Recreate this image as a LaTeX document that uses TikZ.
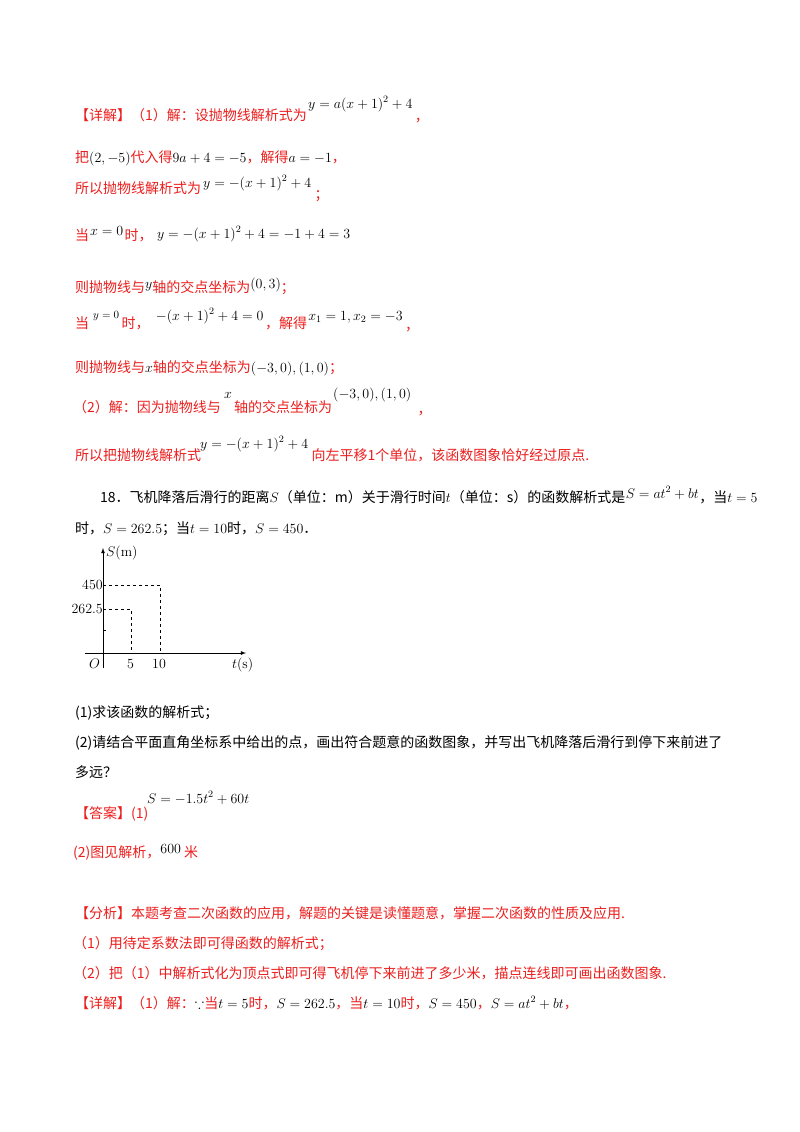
\RequirePackage{fix-cm}
\documentclass[tikz,border=0pt]{standalone}
\usepackage{amssymb}
\usepackage{fontspec}
\newfontfamily\cjk{Noto Sans CJK SC}
\definecolor{rd}{RGB}{235,30,30}
\newcommand\mth[1]{\textcolor{black}{$#1$}}
\tikzset{tx/.style={anchor=base west,inner sep=0,font=\cjk\fontsize{14}{16}\selectfont},
 rt/.style={tx,text=rd}, bt/.style={tx,text=black},
 mt/.style={anchor=base west,inner sep=0,font=\fontsize{14}{16}\selectfont},
 ax/.style={line width=0.8pt,-latex}, dl/.style={dashed,line width=0.5pt}}
\begin{document}
\begin{tikzpicture}[x=1pt,y=-1pt]
\useasboundingbox (0,0) rectangle (800,1132);
\node[rt] (a1) at (75,120) {【详解】（1）解：设抛物线解析式为};
\node[mt] (a2) at (308,108) {$y=a(x+1)^2+4$};
\node[rt] (a3) at (a2.base east) [xshift=2pt,yshift=-13pt] {，};
\node[rt] (b1) at (75,162) {把\mth{(2,-5)}代入得\mth{9a+4=-5}，解得\mth{a=-1}，};
\node[rt] (c1) at (75,193) {所以抛物线解析式为};
\node[mt] (c2) at (203,187) {$y=-(x+1)^2+4$};
\node[rt] (c3) at (c2.base east) [xshift=3pt,yshift=-12pt] {；};
\node[rt] (d1) at (75,240) {当};
\node[mt] (d2) at (90,235) {$x=0$};
\node[rt] (d3) at (d2.base east) [xshift=1pt,yshift=-5pt] {时，};
\node[mt] (d4) at (d3.base east) [xshift=4pt,yshift=2pt] {$y=-(x+1)^2+4=-1+4=3$};
\node[rt] (e1) at (75,292) {则抛物线与\raisebox{4pt}{\mth{y}}轴的交点坐标为\raisebox{4pt}{\mth{(0,3)}}；};
\node[rt] (f1) at (75,328) {当};
\node[mt,font=\fontsize{11}{13}\selectfont] (f2) at (93,318) {$y=0$};
\node[rt] (f3) at (f2.base east) [xshift=2pt,yshift=-10pt] {时，};
\node[mt] (f4) at (f3.base east) [xshift=6pt,yshift=8pt] {$-(x+1)^2+4=0$};
\node[rt] (f5) at (f4.base east) [xshift=1pt,yshift=-8pt] {，解得};
\node[mt] (f6) at (f5.base east) [xshift=1pt,yshift=8pt] {$x_1=1,x_2=-3$};
\node[rt] (f7) at (f6.base east) [xshift=2pt,yshift=-10pt] {，};
\node[rt] (g1) at (75,372) {则抛物线与\mth{x}轴的交点坐标为\mth{(-3,0),(1,0)}；};
\node[rt] (h1) at (73,412) {（2）解：因为抛物线与};
\node[mt] (h2) at (224,398) {$x$};
\node[rt] (h3) at (234,412) {轴的交点坐标为};
\node[mt] (h4) at (333,398) {$(-3,0),(1,0)$};
\node[rt] (h5) at (h4.base east) [xshift=6pt,yshift=-16pt] {，};
\node[rt] (i1) at (75,460) {所以把抛物线解析式};
\node[mt] (i2) at (200,448) {$y=-(x+1)^2+4$};
\node[rt] (i3) at (i2.base east) [xshift=3pt,yshift=-12pt] {向左平移1个单位，该函数图象恰好经过原点.};
\node[bt] (j1) at (100,502) {18．飞机降落后滑行的距离$S$（单位：m）关于滑行时间$t$（单位：s）的函数解析式是};
\node[mt] (j2) at (j1.base east) [yshift=4pt] {$S=at^2+bt$};
\node[bt] (j3) at (j2.base east) [yshift=-4pt] {，当$t=5$};
\node[bt] (k1) at (75,533) {时，$S=262.5$；当$t=10$时，$S=450$．};
% graph
\coordinate (o) at (103,653);
\coordinate (yt) at (103,548);
\coordinate (yb) at (103,668);
\coordinate (xl) at (85,653);
\coordinate (xr) at (246,653);
\draw[ax] (yb) -- (yt);
\draw[ax] (xl) -- (xr);
\draw (103,630) -- (106,630);
\draw[dl] (103,585) -- (160,585) -- (160,653);
\draw[dl] (103,609) -- (131,609) -- (131,653);
\node[mt,anchor=west] (sl) at (106,553) {$S(\mathrm{m})$};
\node[mt,anchor=east] (l450) at (103,585) {$450$};
\node[mt,anchor=east] (l262) at (103,609) {$262.5$};
\node[mt] (lo) at (89,668) {$O$};
\node[mt] (l5) at (127,668) {$5$};
\node[mt] (l10) at (152,668) {$10$};
\node[mt] (lt) at (232,668) {$t(\mathrm{s})$};
\node[bt] (m1) at (75,717) {(1)求该函数的解析式；};
\node[bt] (m2) at (75,747) {(2)请结合平面直角坐标系中给出的点，画出符合题意的函数图象，并写出飞机降落后滑行到停下来前进了};
\node[bt] (m3) at (75,777) {多远？};
\node[rt] (n1) at (75,818) {【答案】(1)};
\node[mt] (n2) at (147,803) {$S=-1.5t^2+60t$};
\node[rt] (p1) at (73,857) {(2)图见解析，\raisebox{4pt}{\mth{600}} 米};
\node[rt] (q1) at (75,918) {【分析】本题考查二次函数的应用，解题的关键是读懂题意，掌握二次函数的性质及应用.};
\node[rt] (q2) at (73,948) {（1）用待定系数法即可得函数的解析式；};
\node[rt] (q3) at (73,978) {（2）把（1）中解析式化为顶点式即可得飞机停下来前进了多少米，描点连线即可画出函数图象.};
\node[rt] (q4) at (75,1008) {【详解】（1）解：\mth{\because}当\mth{t=5}时，\mth{S=262.5}，当\mth{t=10}时，\mth{S=450}，\mth{S=at^2+bt}，};
\end{tikzpicture}
\end{document}
